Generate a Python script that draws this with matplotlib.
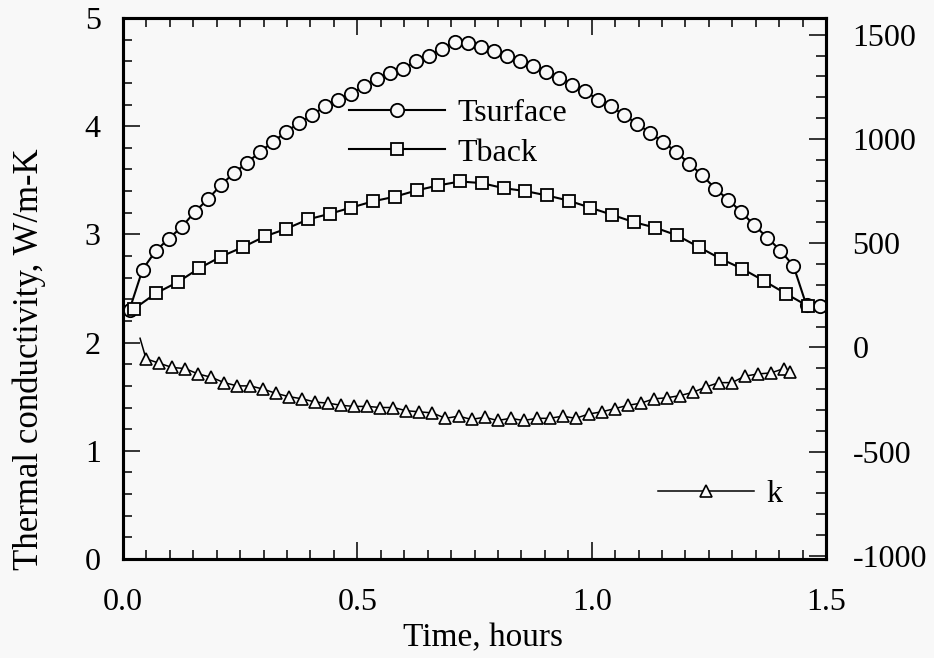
import numpy as np
import matplotlib
matplotlib.use("Agg")
import matplotlib.pyplot as plt
from matplotlib.ticker import MultipleLocator

plt.rcParams['font.family'] = ['Liberation Serif', 'DejaVu Serif']
plt.rcParams['axes.unicode_minus'] = False

# surface thermocouple, logged every 100 s
tsurf_time_s = [50, 150, 250, 350, 450, 550, 650, 750, 850, 950,
                1050, 1150, 1250, 1350, 1450, 1550, 1650, 1750, 1850, 1950,
                2050, 2150, 2250, 2350, 2450, 2550, 2650, 2750, 2850, 2950,
                3050, 3150, 3250, 3350, 3450, 3550, 3650, 3750, 3850, 3950,
                4050, 4150, 4250, 4350, 4450, 4550, 4650, 4750, 4850, 4950,
                5050, 5150, 5250, 5350]
tsurf = [181, 373, 462, 521, 577, 649, 710, 777, 836, 884,
         937, 985, 1033, 1076, 1113, 1156, 1188, 1217, 1252, 1289,
         1316, 1337, 1372, 1400, 1433, 1464, 1460, 1440, 1421, 1398,
         1373, 1348, 1321, 1294, 1261, 1229, 1188, 1156, 1113, 1073,
         1028, 985, 937, 881, 825, 761, 708, 649, 585, 526,
         464, 391, 201, 197]

# back face thermocouple
tback_time_s = [87, 254, 420, 587, 754, 921, 1088, 1254, 1421, 1588,
                1755, 1922, 2089, 2255, 2422, 2589, 2756, 2923, 3089, 3256,
                3423, 3590, 3757, 3923, 4090, 4257, 4424, 4591, 4757, 4924,
                5091, 5258]
tback = [186, 260, 313, 380, 436, 481, 532, 569, 614, 641,
         671, 701, 723, 753, 777, 796, 788, 764, 750, 729,
         704, 670, 636, 601, 574, 537, 481, 425, 377, 319,
         258, 199]

# inverse solution for conductivity (first point drawn without a marker)
k_time_s = [131,
            177, 277, 377, 477, 577, 677, 777, 877, 977, 1077,
            1177, 1277, 1377, 1477, 1577, 1677, 1777, 1877, 1977, 2077,
            2177, 2277, 2377, 2477, 2577, 2677, 2777, 2877, 2977, 3077,
            3177, 3277, 3377, 3477, 3577, 3677, 3777, 3877, 3977, 4077,
            4177, 4277, 4377, 4477, 4577, 4677, 4777, 4877, 4977, 5077,
            5127]
k_vals = [2.04,
          1.85, 1.81, 1.77, 1.76, 1.71, 1.68, 1.63, 1.60, 1.60, 1.57,
          1.53, 1.50, 1.48, 1.45, 1.44, 1.42, 1.41, 1.41, 1.40, 1.40,
          1.37, 1.36, 1.35, 1.30, 1.32, 1.29, 1.31, 1.28, 1.30, 1.28,
          1.30, 1.30, 1.32, 1.30, 1.34, 1.36, 1.39, 1.42, 1.44, 1.48,
          1.49, 1.51, 1.54, 1.59, 1.63, 1.63, 1.69, 1.71, 1.72, 1.76,
          1.73]

bg = '#f8f8f8'
fs = 23

fig = plt.figure(figsize=(9.34, 6.58), dpi=100, facecolor=bg)
ax = fig.add_axes([0.1317, 0.1505, 0.7527, 0.8221])
ax.set_facecolor(bg)
ax2 = ax.twinx()

hours = lambda s: np.asarray(s) / 3600.0

# temperatures on the right-hand axis
l_ts, = ax2.plot(hours(tsurf_time_s), tsurf, '-o', color='black', lw=1.5,
                 ms=9.6, mew=1.3, mfc=bg, mec='black', label='Tsurface')
l_tb, = ax2.plot(hours(tback_time_s), tback, '-s', color='black', lw=1.5,
                 ms=9.0, mew=1.3, mfc=bg, mec='black', label='Tback')

# conductivity on the left-hand axis
l_k, = ax.plot(hours(k_time_s), k_vals, '-^', color='black', lw=1.1,
               ms=9.0, mew=1.2, mfc=bg, mec='black',
               markevery=list(range(1, len(k_vals))), label='k')

ax.set_xlim(0, 1.5)
ax.set_ylim(0, 5)
ax2.set_ylim(-1015, 1580)

ax.xaxis.set_major_locator(MultipleLocator(0.5))
ax.xaxis.set_minor_locator(MultipleLocator(0.05))
ax.yaxis.set_major_locator(MultipleLocator(1))
ax.yaxis.set_minor_locator(MultipleLocator(0.2))
ax2.yaxis.set_major_locator(MultipleLocator(500))
ax2.yaxis.set_minor_locator(MultipleLocator(100))
ax.xaxis.set_major_formatter(plt.FuncFormatter(lambda v, p: f'{v:.1f}'))

ax.tick_params(axis='both', which='both', direction='in', width=1.1,
               labelsize=fs, top=True, right=False)
ax.tick_params(axis='both', which='major', length=12)
ax.tick_params(axis='both', which='minor', length=6.5)
ax.tick_params(axis='y', pad=16)
ax.tick_params(axis='x', pad=21)
ax2.tick_params(axis='y', which='both', direction='in', width=1.1,
                labelsize=fs, pad=19)
ax2.tick_params(axis='y', which='major', length=12)
ax2.tick_params(axis='y', which='minor', length=7)

for a in (ax, ax2):
    for sp in a.spines.values():
        sp.set_linewidth(2.2)

ax.set_xlabel('Time, hours', fontsize=24)
ax.set_ylabel('Thermal conductivity, W/m-K', fontsize=25)
ax.xaxis.set_label_coords(0.512, -0.118)
ax.yaxis.set_label_coords(-0.11, 0.37)

leg1 = ax2.legend(handles=[l_ts, l_tb], loc='center left',
                  bbox_to_anchor=(349 / 934, 1 - 133 / 658),
                  bbox_transform=fig.transFigure, frameon=False,
                  fontsize=fs, numpoints=1, handlelength=3.0,
                  handletextpad=0.4, labelspacing=0.33, borderpad=0,
                  borderaxespad=0)
leg2 = ax2.legend(handles=[l_k], loc='center left',
                  bbox_to_anchor=(658 / 934, 1 - 494 / 658),
                  bbox_transform=fig.transFigure, frameon=False,
                  fontsize=fs, numpoints=1, handlelength=3.0,
                  handletextpad=0.4, borderpad=0, borderaxespad=0)
ax2.add_artist(leg1)

fig.savefig('out.png', dpi=100, facecolor=bg)
